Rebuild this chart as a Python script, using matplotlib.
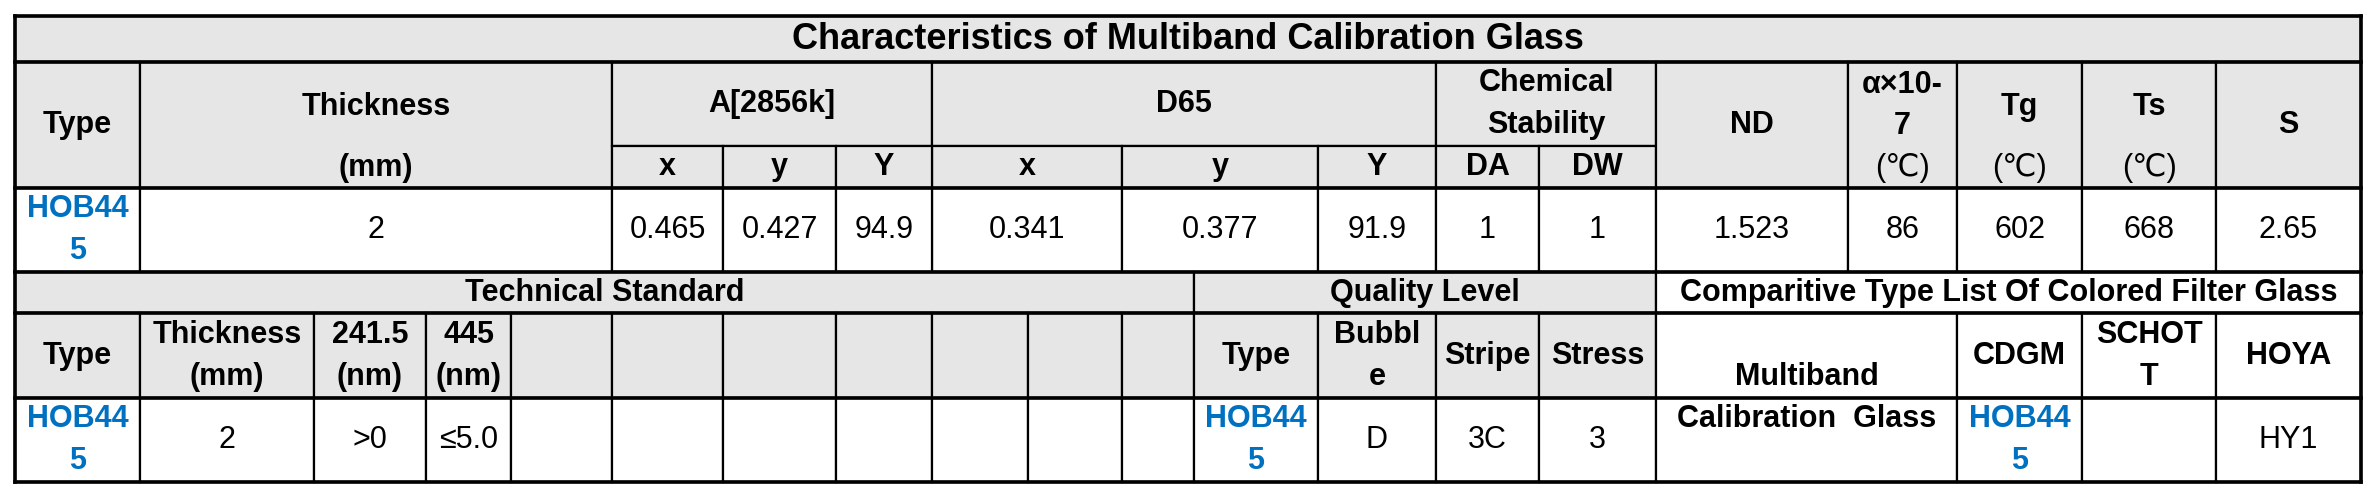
import matplotlib
matplotlib.use("Agg")
import matplotlib.pyplot as plt
from matplotlib.patches import Rectangle

W, H = 2378, 498
GRAY = "#e6e6e6"
BLUE = "#0070c0"
FAM = ["Liberation Sans", "DejaVu Sans"]

title = "Characteristics of Multiband Calibration Glass"
glass_type = "HOB44\n5"
thickness = "2"
a2856 = ["0.465", "0.427", "94.9"]
d65 = ["0.341", "0.377", "91.9"]
chem = ["1", "1"]
props = ["1.523", "86", "602", "668", "2.65"]
tech_vals = ["2", ">0", "≤5.0"]
quality_vals = ["D", "3C", "3"]
comparative = ["Multiband\nCalibration  Glass", "HOB44\n5", "", "HY1"]

fig = plt.figure(figsize=(W / 100, H / 100), dpi=100)
ax = fig.add_axes([0, 0, 1, 1])
ax.set_xlim(0, W)
ax.set_ylim(H, 0)
ax.axis("off")

def cell(x0, x1, y0, y1, text="", bg="white", color="black", bold=True,
         size=22, ls=42, lines_y=None):
    ax.add_patch(Rectangle((x0, y0), x1 - x0, y1 - y0, facecolor=bg,
                           edgecolor="black", linewidth=1.6))
    if not text:
        return
    lines = text.split("\n")
    n = len(lines)
    cy = (y0 + y1) / 2
    if lines_y is None:
        lines_y = [cy + (i - (n - 1) / 2) * ls for i in range(n)]
    for t, y in zip(lines, lines_y):
        ax.text((x0 + x1) / 2, y, t, ha="center", va="center", color=color,
                fontsize=size, fontweight="bold" if bold else "normal",
                family=FAM)

R0, R1, R2, R3, R4, R5, R6, R7 = 16, 62, 146, 188, 272, 313, 398, 482
c = [15, 140, 612, 723, 836, 932, 1122, 1318, 1436, 1539, 1656, 1848, 1957, 2082, 2216, 2361]

cell(c[0], c[-1], R0, R1, title, GRAY, size=26)
cell(c[0], c[1], R1, R3, "Type", GRAY)
cell(c[1], c[2], R1, R3, "Thickness\n(mm)", GRAY, lines_y=[107, 168])
cell(c[2], c[5], R1, R2, "A[2856k]", GRAY)
cell(c[5], c[8], R1, R2, "D65", GRAY)
cell(c[8], c[10], R1, R2, "Chemical\nStability", GRAY)
for i, t in enumerate(["x", "y", "Y"]):
    cell(c[2 + i], c[3 + i], R2, R3, t, GRAY)
    cell(c[5 + i], c[6 + i], R2, R3, t, GRAY)
cell(c[8], c[9], R2, R3, "DA", GRAY)
cell(c[9], c[10], R2, R3, "DW", GRAY)
cell(c[10], c[11], R1, R3, "ND", GRAY)
cell(c[11], c[12], R1, R3, "α×10-\n7", GRAY, lines_y=[85, 126])
cell(c[11], c[12], R1, R3, "", GRAY) if False else None
ax.text((c[11] + c[12]) / 2, 168, "(℃)", ha="center", va="center", fontsize=22, family=FAM)
cell(c[12], c[13], R1, R3, "Tg", GRAY, lines_y=[107])
ax.text((c[12] + c[13]) / 2, 168, "(℃)", ha="center", va="center", fontsize=22, family=FAM)
cell(c[13], c[14], R1, R3, "Ts", GRAY, lines_y=[107])
ax.text((c[13] + c[14]) / 2, 168, "(℃)", ha="center", va="center", fontsize=22, family=FAM)
cell(c[14], c[15], R1, R3, "S", GRAY)

cell(c[0], c[1], R3, R4, glass_type, color=BLUE)
cell(c[1], c[2], R3, R4, thickness, bold=False)
for i in range(3):
    cell(c[2 + i], c[3 + i], R3, R4, a2856[i], bold=False)
    cell(c[5 + i], c[6 + i], R3, R4, d65[i], bold=False)
for i in range(2):
    cell(c[8 + i], c[9 + i], R3, R4, chem[i], bold=False)
for i in range(5):
    cell(c[10 + i], c[11 + i], R3, R4, props[i], bold=False)

b = [15, 140, 314, 426, 511, 612, 723, 836, 932, 1028, 1122, 1194]
q = [1194, 1318, 1436, 1539, 1656]
k = [1656, 1957, 2082, 2216, 2361]

cell(b[0], b[-1], R4, R5, "Technical Standard", GRAY)
cell(q[0], q[-1], R4, R5, "Quality Level", GRAY)
cell(k[0], k[-1], R4, R5, "Comparitive Type List Of Colored Filter Glass")

tech_hdr = ["Type", "Thickness\n(mm)", "241.5\n(nm)", "445\n(nm)"]
for i in range(len(b) - 1):
    cell(b[i], b[i + 1], R5, R6, tech_hdr[i] if i < 4 else "", GRAY)
    if i == 0:
        cell(b[i], b[i + 1], R6, R7, glass_type, color=BLUE)
    elif i < 4:
        cell(b[i], b[i + 1], R6, R7, tech_vals[i - 1], bold=False)
    else:
        cell(b[i], b[i + 1], R6, R7)

q_hdr = ["Type", "Bubbl\ne", "Stripe", "Stress"]
for i in range(4):
    cell(q[i], q[i + 1], R5, R6, q_hdr[i], GRAY)
    if i == 0:
        cell(q[i], q[i + 1], R6, R7, glass_type, color=BLUE)
    else:
        cell(q[i], q[i + 1], R6, R7, quality_vals[i - 1], bold=False)

cell(k[0], k[1], R5, R7, comparative[0])
k_hdr = ["CDGM", "SCHOT\nT", "HOYA"]
for i in range(3):
    cell(k[1 + i], k[2 + i], R5, R6, k_hdr[i])
cell(k[1], k[2], R6, R7, comparative[1], color=BLUE)
cell(k[2], k[3], R6, R7, comparative[2], bold=False)
cell(k[3], k[4], R6, R7, comparative[3], bold=False)

for y in [R0, R1, R3, R4, R5, R6, R7]:
    ax.plot([c[0], c[-1]], [y, y], color="black", lw=2.6)
for x in [c[0], c[-1]]:
    ax.plot([x, x], [R0, R7], color="black", lw=2.6)

fig.savefig("out.png", dpi=100)
